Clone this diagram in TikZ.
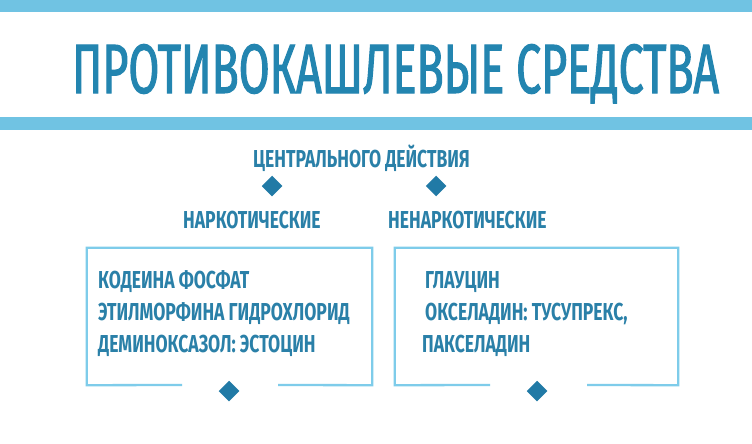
\documentclass[tikz,border=0pt]{standalone}
\usepackage{fontspec}
\newfontfamily\titlefont[FakeStretch=0.642,FakeBold=1.5]{Fira Sans}
\newfontfamily\smallfont[FakeStretch=0.716]{Fira Sans}
\definecolor{band}{HTML}{70C3E3}
\definecolor{titleblue}{HTML}{2385B0}
\definecolor{textblue}{HTML}{2A80A8}
\definecolor{diamondblue}{HTML}{217AA6}
\definecolor{boxblue}{HTML}{7ECCEA}
\tikzset{
  txt/.style={anchor=base west, inner sep=0pt, text=textblue, font=\smallfont\bfseries\fontsize{24.5}{26}\selectfont},
  ttl/.style={anchor=base west, inner sep=0pt, text=titleblue, font=\titlefont\fontsize{69.7}{72}\selectfont},
  dia/.style={shape=rectangle, fill=diamondblue, minimum size=14.5pt, inner sep=0pt, rotate=45},
  frame/.style={draw=boxblue, line width=2.3pt},
  bandstyle/.style={fill=band}
}
\begin{document}
\begin{tikzpicture}[x=1pt,y=-1pt]
\useasboundingbox (0,0) rectangle (752,444);
\fill[white] (0,0) rectangle (752,444);
% bands
\fill[bandstyle] (0,0) rectangle (752,12);
\fill[bandstyle] (0,117) rectangle (752,130);
% title
\node[ttl] (title) at (72,93) {ПРОТИВОКАШЛЕВЫЕ СРЕДСТВА};
% headings
\node[txt] (central) at (253,167) {ЦЕНТРАЛЬНОГО ДЕЙСТВИЯ};
\node[dia] (d1) at (272,186) {};
\node[dia] (d2) at (436,186) {};
\node[txt] (nark) at (183,228) {НАРКОТИЧЕСКИЕ};
\node[txt] (nenark) at (388,228) {НЕНАРКОТИЧЕСКИЕ};
% boxes
\node[inner sep=0pt, minimum width=285pt, minimum height=137pt] (lbox) at (229.5,316.5) {};
\node[inner sep=0pt, minimum width=283pt, minimum height=137pt] (rbox) at (536.5,316.5) {};
\coordinate (lg1) at (182,385);
\coordinate (lg2) at (278,385);
\coordinate (rg1) at (490,385);
\coordinate (rg2) at (587,385);
\draw[frame] (lg1) -- (lbox.south west) -- (lbox.north west) -- (lbox.north east) -- (lbox.south east) -- (lg2);
\draw[frame] (rg1) -- (rbox.south west) -- (rbox.north west) -- (rbox.north east) -- (rbox.south east) -- (rg2);
\node[dia] (d3) at (229,391) {};
\node[dia] (d4) at (537,391) {};
% box texts
\node[txt] (l1) at (98,288) {КОДЕИНА ФОСФАТ};
\node[txt] (l2) at (98,320) {ЭТИЛМОРФИНА ГИДРОХЛОРИД};
\node[txt] (l3) at (98,352) {ДЕМИНОКСАЗОЛ: ЭСТОЦИН};
\node[txt] (r1) at (425,288) {ГЛАУЦИН};
\node[txt] (r2) at (425,320) {ОКСЕЛАДИН: ТУСУПРЕКС,};
\node[txt] (r3) at (422,352) {ПАКСЕЛАДИН};
\end{tikzpicture}
\end{document}
